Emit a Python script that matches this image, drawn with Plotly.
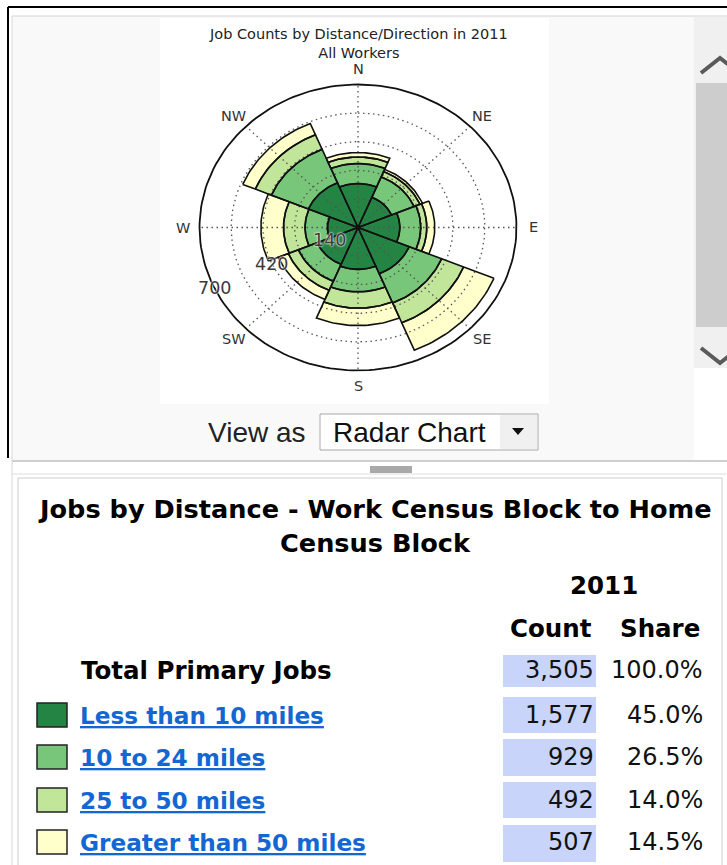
import numpy as np
import plotly.graph_objects as go

# -- Page size (px) --
W, H = 727, 865

# -- Data --
DIRECTIONS = ["N", "NE", "E", "SE", "S", "SW", "W", "NW"]
DIR_ANGLES = [0, 45, 90, 135, 180, 225, 270, 315]   # clockwise from north

BANDS = ["Less than 10 miles", "10 to 24 miles", "25 to 50 miles", "Greater than 50 miles"]
LESS_10 = [215, 160, 185, 245, 205, 195, 135, 237]
FROM_10_TO_24 = [98, 108, 92, 155, 110, 90, 99, 177]
FROM_25_TO_50 = [32, 28, 27, 105, 80, 48, 95, 77]
OVER_50 = [22, 12, 35, 145, 85, 48, 100, 60]

RADIAL_GRID = [140, 280, 420, 560]
RADIAL_MAX = 700
RADIAL_LABELS = [140, 420, 700]

YEAR = "2011"
TOTAL_LABEL = "Total Primary Jobs"
TOTAL_JOBS = 3505
TOTAL_SHARE = "100.0%"
BAND_COUNTS = [1577, 929, 492, 507]
BAND_SHARES = ["45.0%", "26.5%", "14.0%", "14.5%"]

COLORS = ["#238443", "#78c679", "#c2e699", "#ffffcc"]
LINK_COLOR = "#1467d3"
CELL_COLOR = "#c8d4fa"

# -- Polar area geometry (the original image is a little stretched sideways) --
CX, CY = 358, 227.5          # centre in page px
SX, SY = 0.2264, 0.2043      # px per job, horizontal / vertical
R_VIEW = 850                 # axis half-range in jobs


def fx(px):
    return px / W


def fy(py):
    return 1 - py / H


def text(fig, x, y, s, size, anchor="center", bold=False, color="#000",
         family="DejaVu Sans", **font_extra):
    fig.add_annotation(
        x=fx(x), y=fy(y), xref="paper", yref="paper", text=s, showarrow=False,
        xanchor=anchor, yanchor="middle", borderpad=0,
        font=dict(family=family, size=size, color=color,
                  weight="bold" if bold else "normal", **font_extra),
    )


def rect(fig, x0, y0, x1, y1, fill, line=None, width=1, layer="below"):
    fig.add_shape(
        type="rect", xref="paper", yref="paper",
        x0=fx(x0), x1=fx(x1), y0=fy(y1), y1=fy(y0),
        fillcolor=fill, layer=layer,
        line=dict(color=line or "rgba(0,0,0,0)", width=width if line else 0),
    )


def hline(fig, x0, x1, y, color, width=1):
    fig.add_shape(type="line", xref="paper", yref="paper", x0=fx(x0), x1=fx(x1),
                  y0=fy(y), y1=fy(y), line=dict(color=color, width=width), layer="below")


def vline(fig, x, y0, y1, color, width=1):
    fig.add_shape(type="line", xref="paper", yref="paper", x0=fx(x), x1=fx(x),
                  y0=fy(y0), y1=fy(y1), line=dict(color=color, width=width), layer="below")


def wedges(bottoms, tops):
    # One None-separated polygon list holding the ring segment of every direction.
    xs, ys = [], []
    for ang, r0, r1 in zip(DIR_ANGLES, bottoms, tops):
        t = np.radians(np.linspace(ang - 22.5, ang + 22.5, 30))
        xs += list(r1 * np.sin(t)) + list(r0 * np.sin(t[::-1])) + [r1 * np.sin(t[0]), None]
        ys += list(r1 * np.cos(t)) + list(r0 * np.cos(t[::-1])) + [r1 * np.cos(t[0]), None]
    return xs, ys


fig = go.Figure()

# -- Page chrome: frame, top panel, chart image, scrollbar --
rect(fig, 12, 16, 694, 460, "#f9f9f9")
rect(fig, 160, 18, 549, 404, "#ffffff")
hline(fig, 8, W, 7, "#000000", 2)
vline(fig, 8, 7, 458, "#000000", 2)
hline(fig, 12, W, 16, "#d4d4d4", 1)
vline(fig, 12, 16, H, "#d8d8d8", 1)

rect(fig, 694, 17, W + 2, 368, "#f0f0f0")
rect(fig, 696, 83, W + 2, 327, "#cdcdcd")
fig.add_shape(type="path", xref="paper", yref="paper",
              path=f"M {fx(701)} {fy(73)} L {fx(720)} {fy(58)} L {fx(739)} {fy(73)}",
              line=dict(color="#5a5a5a", width=4), layer="above")
fig.add_shape(type="path", xref="paper", yref="paper",
              path=f"M {fx(701)} {fy(348)} L {fx(720)} {fy(363)} L {fx(739)} {fy(348)}",
              line=dict(color="#5a5a5a", width=4), layer="above")

# -- Splitter between the two panels --
hline(fig, 12, W, 461, "#cfcfcf", 2)
hline(fig, 12, W, 474, "#dddddd", 1)
rect(fig, 370, 466, 412, 473, "#a9a9a9")

# -- Lower panel --
rect(fig, 18, 478, 722, H + 5, "#ffffff", line="#cccccc", width=1)

# -- Stacked polar bars --
cum = np.zeros(len(DIRECTIONS))
rings = []
for band, vals, col in zip(BANDS, [LESS_10, FROM_10_TO_24, FROM_25_TO_50, OVER_50], COLORS):
    top = cum + np.array(vals)
    xs, ys = wedges(cum, top)
    rings.append((xs, ys))
    fig.add_trace(go.Scatter(x=xs, y=ys, mode="lines", fill="toself", fillcolor=col,
                             line=dict(width=0), name=band, hoverinfo="skip"))
    cum = top

# dotted grid drawn over the fills
gx, gy = [], []
tt = np.radians(np.linspace(0, 360, 181))
for r in RADIAL_GRID:
    gx += list(r * np.sin(tt)) + [None]
    gy += list(r * np.cos(tt)) + [None]
for ang in DIR_ANGLES:
    a = np.radians(ang)
    gx += [0, RADIAL_MAX * np.sin(a), None]
    gy += [0, RADIAL_MAX * np.cos(a), None]
fig.add_trace(go.Scatter(x=gx, y=gy, mode="lines", hoverinfo="skip",
                         line=dict(color="#555555", width=1.3, dash="1.5px,3.5px")))

# bar outlines on top
for xs, ys in rings:
    fig.add_trace(go.Scatter(x=xs, y=ys, mode="lines", hoverinfo="skip",
                             line=dict(color="#111111", width=1.6)))

# outer boundary
fig.add_trace(go.Scatter(x=RADIAL_MAX * np.sin(tt), y=RADIAL_MAX * np.cos(tt), mode="lines",
                         hoverinfo="skip", line=dict(color="#111111", width=1.8)))

# compass labels
for lab, ang in zip(DIRECTIONS, DIR_ANGLES):
    a = np.radians(ang)
    fig.add_annotation(x=775 * np.sin(a), y=775 * np.cos(a), xref="x", yref="y",
                       text=lab, showarrow=False,
                       font=dict(family="DejaVu Sans", size=14.5, color="#333333"))

# radial tick labels
for r in RADIAL_LABELS:
    a = np.radians(245)
    fig.add_annotation(x=r * np.sin(a), y=r * np.cos(a), xref="x", yref="y",
                       text=str(r), showarrow=False,
                       font=dict(family="DejaVu Sans", size=17.5, color="#3a3a3a",
                                 shadow="0 0 2px #ffffff, 0 0 2px #ffffff"))

# chart title (two lines in one block)
text(fig, CX, 43, f"Job Counts by Distance/Direction in {YEAR}<br>All Workers", 14.5,
     color="#222222")

# -- "View as" selector --
text(fig, 207, 432, "View as", 28, anchor="left", color="#222222", family="Liberation Sans")
rect(fig, 320, 414, 538, 450, "#ffffff", line="#a8a8a8", width=1, layer="above")
rect(fig, 500, 415, 537, 449, "#f0f0f0", layer="above")
vline(fig, 500, 414, 450, "#c4c4c4", 1)
fig.add_shape(type="path", xref="paper", yref="paper", layer="above",
              path=f"M {fx(512)} {fy(428)} L {fx(524)} {fy(428)} L {fx(518)} {fy(435)} Z",
              fillcolor="#111111", line=dict(width=0))
text(fig, 332, 432, "Radar Chart", 28, anchor="left", color="#111111", family="Liberation Sans")

# -- Table --
text(fig, 375, 509, "Jobs by Distance - Work Census Block to Home", 25.6, bold=True)
text(fig, 375, 543, "Census Block", 25.6, bold=True)
text(fig, 604, 585, YEAR, 24.5, bold=True)
text(fig, 551, 628, "Count", 24.5, bold=True)
text(fig, 660, 628, "Share", 24.5, bold=True)

row_y = [670, 715, 757, 800, 842]
cell_top = [655, 697, 739, 782, 825]
cell_bot = [687, 733, 776, 818, 862]

text(fig, 80, row_y[0], TOTAL_LABEL, 24.5, anchor="left", bold=True)
counts = [TOTAL_JOBS] + BAND_COUNTS
shares = [TOTAL_SHARE] + BAND_SHARES
for i, (c, s) in enumerate(zip(counts, shares)):
    rect(fig, 503, cell_top[i], 596, cell_bot[i], CELL_COLOR)
    text(fig, 595, row_y[i], f"{c:,}", 24, anchor="right", color="#111111")
    text(fig, 704, row_y[i], s, 24, anchor="right", color="#111111")

for i, (band, col) in enumerate(zip(BANDS, COLORS)):
    y = row_y[i + 1]
    rect(fig, 37, y - 12, 67, y + 12, col, line="#222222", width=1.5, layer="above")
    text(fig, 79, y, band, 23.2, anchor="left", bold=True, color=LINK_COLOR,
         lineposition="under")

# -- Axes for the polar area --
fig.update_xaxes(visible=False, range=[-R_VIEW, R_VIEW], fixedrange=True,
                 domain=[fx(CX - R_VIEW * SX), fx(CX + R_VIEW * SX)])
fig.update_yaxes(visible=False, range=[-R_VIEW, R_VIEW], fixedrange=True,
                 domain=[fy(CY + R_VIEW * SY), fy(CY - R_VIEW * SY)])

fig.update_layout(
    width=W, height=H,
    margin=dict(l=0, r=0, t=0, b=0),
    paper_bgcolor="#ffffff",
    plot_bgcolor="rgba(0,0,0,0)",
    showlegend=False,
)

fig.write_html("out.html", config={"displayModeBar": False},
               post_script="document.body.style.margin='0';document.body.style.overflow='hidden';")
